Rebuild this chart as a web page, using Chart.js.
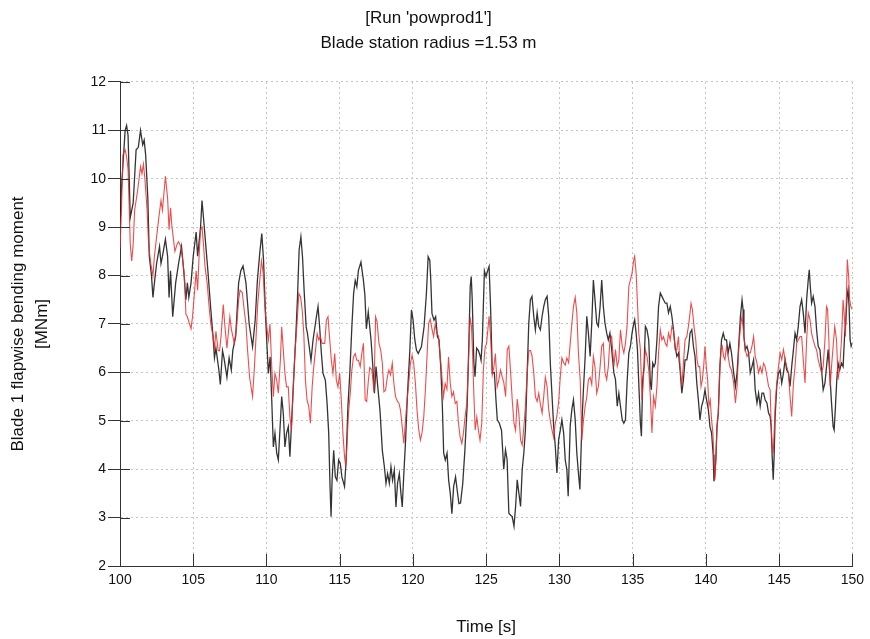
<!DOCTYPE html>
<html>
<head>
<meta charset="utf-8">
<script src="https://cdn.jsdelivr.net/npm/chart.js@4.4.1/dist/chart.umd.min.js"></script>
<style>
  html, body { margin: 0; padding: 0; background: #ffffff; }
  #wrap { width: 870px; height: 639px; position: relative; }
</style>
</head>
<body>
<div id="wrap"><canvas id="c" width="870" height="639"></canvas></div>
<script>
// ---- Data ----
const titleLines = ["[Run 'powprod1']", "Blade station radius =1.53 m"];
const xTitle = "Time [s]";
const yTitle = ["Blade 1 flapwise bending moment", "[MNm]"];

const blackTime = [
  100.0,100.1,100.35,100.45,100.55,100.7,100.9,101.1,101.25,101.4,
  101.55,101.65,101.75,101.9,102.0,102.15,102.25,102.35,102.5,102.7,
  102.8,102.9,103.1,103.25,103.35,103.45,103.6,103.8,104.0,104.2,
  104.35,104.5,104.6,104.7,104.85,105.0,105.2,105.3,105.5,105.6,
  105.7,105.85,106.0,106.2,106.35,106.45,106.55,106.75,106.85,107.0,
  107.1,107.3,107.45,107.6,107.7,107.9,108.1,108.25,108.4,108.6,
  108.82,109.05,109.23,109.38,109.54,109.68,109.8,109.95,110.13,110.25,
  110.36,110.47,110.58,110.7,110.81,110.92,111.04,111.15,111.26,111.37,
  111.49,111.6,111.71,111.83,111.99,112.12,112.23,112.35,112.46,112.57,
  112.71,112.8,112.92,113.04,113.18,113.41,113.52,113.63,113.75,113.86,
  114.02,114.14,114.25,114.34,114.41,114.48,114.59,114.7,114.81,114.93,
  115.04,115.15,115.33,115.44,115.56,115.69,115.83,115.95,116.06,116.17,
  116.28,116.45,116.62,116.72,116.82,116.95,117.14,117.25,117.37,117.48,
  117.6,117.75,117.91,118.05,118.16,118.27,118.39,118.5,118.61,118.73,
  118.84,118.95,119.07,119.18,119.27,119.38,119.5,119.63,119.79,119.9,
  120.01,120.13,120.24,120.36,120.47,120.58,120.76,120.92,121.04,121.15,
  121.22,121.3,121.44,121.55,121.67,121.78,121.9,122.01,122.1,122.21,
  122.33,122.44,122.55,122.66,122.78,122.91,123.02,123.14,123.25,123.4,
  123.55,123.7,123.82,123.91,123.98,124.05,124.16,124.24,124.35,124.47,
  124.58,124.65,124.74,124.88,124.99,125.1,125.2,125.3,125.42,125.56,
  125.67,125.76,125.9,126.05,126.2,126.32,126.43,126.55,126.67,126.78,
  126.9,127.01,127.12,127.23,127.35,127.46,127.57,127.68,127.8,127.91,
  128.02,128.13,128.25,128.36,128.48,128.59,128.7,128.82,128.93,129.04,
  129.16,129.27,129.38,129.5,129.61,129.72,129.83,129.95,130.06,130.17,
  130.29,130.4,130.51,130.6,130.74,130.85,130.96,131.08,131.19,131.3,
  131.4,131.53,131.64,131.76,131.87,131.98,132.1,132.21,132.32,132.43,
  132.55,132.66,132.78,132.89,133.0,133.11,133.23,133.34,133.45,133.57,
  133.72,133.83,133.95,134.06,134.17,134.29,134.4,134.51,134.62,134.74,
  134.85,134.96,135.08,135.14,135.24,135.33,135.42,135.53,135.6,135.69,
  135.78,135.87,135.98,136.1,136.21,136.28,136.37,136.46,136.55,136.66,
  136.77,136.89,137.0,137.11,137.23,137.34,137.45,137.57,137.68,137.79,
  137.9,138.02,138.13,138.24,138.36,138.47,138.58,138.7,138.81,138.92,
  139.04,139.15,139.26,139.38,139.49,139.6,139.71,139.83,139.94,140.05,
  140.17,140.28,140.39,140.5,140.55,140.62,140.69,140.76,140.85,140.96,
  141.07,141.19,141.3,141.41,141.52,141.64,141.75,141.9,142.02,142.13,
  142.24,142.36,142.47,142.54,142.6,142.69,142.81,142.92,143.03,143.15,
  143.26,143.37,143.49,143.6,143.71,143.83,143.94,144.05,144.17,144.28,
  144.39,144.46,144.53,144.6,144.66,144.73,144.84,144.96,145.07,145.18,
  145.3,145.41,145.52,145.64,145.75,145.86,145.98,146.09,146.2,146.31,
  146.43,146.54,146.65,146.77,146.88,146.99,147.06,147.13,147.22,147.33,
  147.45,147.56,147.67,147.79,147.9,148.01,148.13,148.24,148.35,148.46,
  148.58,148.69,148.76,148.85,148.94,149.03,149.14,149.26,149.37,149.48,
  149.55,149.64,149.71,149.78,149.85,149.92,150.0
];
const blackMoment = [
  9.0,9.8,11.0,11.1,10.9,9.2,9.5,10.6,10.65,11.0,
  10.7,10.8,10.5,9.6,8.4,8.0,7.55,7.85,8.25,8.6,
  8.25,8.4,8.75,8.4,7.55,8.1,7.15,7.85,8.25,8.6,
  8.1,7.5,7.85,7.55,7.85,8.4,8.9,8.4,9.0,9.55,
  9.2,8.65,8.1,7.3,6.75,6.3,6.5,6.05,5.75,6.45,
  6.3,5.9,6.3,6.05,6.45,6.75,7.85,8.1,8.2,7.85,
  7.0,6.53,7.08,7.9,8.46,8.87,8.32,7.08,5.98,6.32,
  5.43,4.46,4.74,4.33,4.19,4.81,5.5,5.15,4.46,4.74,
  4.88,4.26,4.95,5.7,6.67,7.56,8.53,8.8,8.39,7.7,
  6.94,6.8,6.53,6.25,6.67,7.15,7.36,6.94,6.39,5.98,
  5.84,5.36,4.74,3.64,3.02,3.77,4.39,3.84,3.77,4.19,
  4.12,3.84,3.64,4.19,5.29,5.98,6.94,7.63,7.9,7.77,
  8.11,8.28,7.9,7.6,6.9,7.25,6.67,6.18,5.57,6.12,
  5.7,5.22,4.39,4.05,3.71,3.91,3.71,4.05,3.77,3.98,
  3.22,3.71,3.91,3.5,3.22,3.91,4.6,5.57,6.46,7.29,
  7.08,6.67,6.46,6.39,6.46,6.53,6.94,7.63,8.39,8.32,
  7.9,7.22,7.08,7.15,6.74,6.67,6.12,5.29,4.33,4.19,
  4.33,3.77,3.5,3.08,3.64,3.84,3.57,3.29,3.3,3.7,
  4.4,5.3,6.6,7.77,7.98,7.5,6.2,5.91,6.5,6.45,
  6.35,6.25,6.67,8.1,7.98,8.1,8.19,7.36,5.98,6.0,
  5.43,5.02,4.95,4.8,4.0,4.4,4.2,3.09,3.05,3.02,
  2.82,3.23,3.78,3.51,3.23,3.99,4.33,4.81,5.98,7.02,
  7.5,7.57,7.16,6.88,7.23,6.95,6.88,7.16,7.36,7.5,
  7.57,7.16,6.19,5.5,4.88,4.47,3.92,4.61,4.8,5.02,
  4.75,4.19,3.99,3.44,4.9,5.23,5.43,5.02,4.33,3.92,
  3.58,4.88,5.64,6.33,7.16,6.81,6.33,7.02,7.91,7.5,
  7.02,6.95,7.36,7.91,7.36,7.02,6.81,6.67,6.81,6.47,
  5.99,5.85,5.3,5.57,5.3,5.02,4.95,5.02,5.78,6.4,
  6.54,6.81,7.02,7.09,6.81,6.47,5.78,4.95,4.68,5.85,
  6.12,6.95,6.88,6.67,5.78,5.64,6.19,6.12,6.19,6.67,
  7.36,7.64,7.57,7.5,7.43,7.43,7.23,7.36,7.16,6.88,
  6.54,6.33,6.4,6.05,5.57,5.85,6.26,6.26,6.47,6.81,
  6.88,6.54,6.33,5.78,5.43,5.02,5.3,5.43,5.64,5.43,
  5.23,4.88,4.75,4.3,3.75,3.92,4.26,4.88,5.16,6.12,
  6.67,6.81,6.67,6.67,6.4,6.6,6.4,5.99,5.71,5.99,
  6.54,7.16,7.5,7.3,6.74,6.47,6.54,6.4,5.99,6.12,
  6.26,5.64,5.37,5.57,5.3,5.57,5.57,5.43,5.37,5.16,
  5.09,4.88,4.26,3.78,4.26,5.09,5.71,5.99,6.05,5.78,
  5.99,6.26,6.05,5.99,5.71,6.12,6.47,6.81,6.67,6.95,
  7.36,7.5,7.23,6.81,7.5,7.91,8.12,7.78,7.43,7.57,
  7.36,6.88,6.54,6.47,6.05,5.64,5.78,6.12,6.47,5.99,
  5.37,4.88,4.81,5.3,5.85,6.19,6.05,6.19,6.12,6.81,
  7.02,7.57,7.71,7.36,6.67,6.54,6.6
];

const redTime = [
  100.0,100.1,100.2,100.35,100.45,100.55,100.62,100.7,100.8,100.9,
  101.0,101.2,101.3,101.4,101.5,101.6,101.7,101.85,101.95,102.1,
  102.25,102.35,102.5,102.65,102.8,102.9,103.0,103.1,103.25,103.35,
  103.45,103.55,103.75,103.9,104.0,104.15,104.25,104.4,104.5,104.6,
  104.75,104.85,104.95,105.1,105.2,105.3,105.4,105.5,105.6,105.7,
  105.8,105.95,106.1,106.2,106.35,106.45,106.55,106.7,106.8,106.9,
  107.05,107.15,107.3,107.5,107.6,107.8,107.95,108.1,108.2,108.35,
  108.48,108.6,108.7,108.85,109.05,109.18,109.3,109.4,109.54,109.66,
  109.78,109.88,110.0,110.13,110.24,110.36,110.47,110.58,110.7,110.81,
  110.95,111.04,111.15,111.26,111.37,111.49,111.6,111.71,111.83,111.94,
  112.1,112.21,112.33,112.44,112.55,112.66,112.77,112.89,113.0,113.12,
  113.23,113.35,113.46,113.57,113.68,113.8,113.98,114.09,114.2,114.32,
  114.43,114.54,114.66,114.77,114.88,115.0,115.11,115.22,115.33,115.42,
  115.51,115.6,115.72,115.83,115.94,116.06,116.17,116.28,116.4,116.51,
  116.62,116.74,116.84,116.95,117.05,117.2,117.34,117.45,117.55,117.68,
  117.8,117.91,118.02,118.13,118.25,118.36,118.47,118.59,118.7,118.81,
  118.95,119.05,119.15,119.26,119.38,119.49,119.6,119.72,119.83,119.94,
  120.05,120.17,120.28,120.4,120.51,120.62,120.74,120.85,120.96,121.07,
  121.18,121.3,121.41,121.52,121.64,121.75,121.86,121.98,122.09,122.2,
  122.32,122.43,122.55,122.66,122.77,122.89,123.0,123.11,123.22,123.34,
  123.45,123.56,123.68,123.79,123.9,124.0,124.08,124.15,124.25,124.36,
  124.47,124.58,124.7,124.81,124.92,125.03,125.2,125.3,125.42,125.53,
  125.63,125.75,125.87,125.98,126.1,126.2,126.33,126.44,126.55,126.67,
  126.78,126.9,127.01,127.12,127.23,127.35,127.46,127.57,127.68,127.8,
  127.91,128.02,128.13,128.25,128.36,128.48,128.59,128.7,128.82,128.93,
  129.04,129.16,129.27,129.38,129.5,129.61,129.72,129.83,129.95,130.06,
  130.17,130.29,130.4,130.51,130.63,130.74,130.85,130.96,131.08,131.19,
  131.3,131.42,131.53,131.64,131.76,131.87,131.98,132.1,132.21,132.32,
  132.43,132.55,132.66,132.78,132.89,133.0,133.11,133.23,133.34,133.45,
  133.57,133.72,133.83,133.95,134.06,134.17,134.29,134.4,134.51,134.62,
  134.74,134.85,134.96,135.08,135.14,135.24,135.33,135.42,135.53,135.64,
  135.76,135.87,135.98,136.1,136.21,136.32,136.43,136.55,136.66,136.77,
  136.89,137.0,137.11,137.23,137.34,137.45,137.57,137.68,137.79,137.9,
  138.02,138.13,138.24,138.36,138.47,138.58,138.7,138.81,138.92,138.99,
  139.08,139.19,139.31,139.4,139.49,139.58,139.67,139.76,139.85,139.94,
  140.03,140.12,140.21,140.3,140.39,140.48,140.57,140.62,140.69,140.76,
  140.85,140.94,141.03,141.12,141.21,141.3,141.41,141.52,141.64,141.75,
  141.9,142.02,142.13,142.24,142.36,142.47,142.58,142.69,142.81,142.92,
  143.03,143.15,143.26,143.37,143.49,143.6,143.71,143.83,143.94,144.05,
  144.17,144.28,144.39,144.46,144.53,144.6,144.66,144.73,144.84,144.96,
  145.07,145.18,145.3,145.41,145.52,145.64,145.75,145.86,145.98,146.09,
  146.2,146.31,146.43,146.54,146.65,146.77,146.88,146.99,147.11,147.22,
  147.33,147.45,147.56,147.67,147.79,147.9,148.01,148.13,148.24,148.31,
  148.4,148.49,148.58,148.69,148.8,148.92,149.03,149.14,149.26,149.37,
  149.44,149.53,149.6,149.66,149.75,149.82,149.9,150.0
];
const redMoment = [
  8.57,9.35,10.5,10.6,10.45,10.2,9.5,8.65,8.3,8.65,
  9.35,9.75,10.0,10.25,10.1,10.3,10.0,9.35,8.65,8.25,
  8.0,8.4,8.8,9.2,9.55,9.35,9.7,10.05,9.6,8.95,
  9.4,9.0,8.5,8.65,8.7,8.6,8.4,8.0,7.2,7.15,
  7.0,6.9,7.15,7.7,8.1,7.7,8.4,8.95,9.0,8.65,
  8.2,7.85,7.3,7.0,6.75,6.5,6.85,6.45,6.45,6.75,
  7.4,7.0,6.5,7.15,6.9,6.6,6.9,7.5,7.7,7.65,
  7.29,7.0,6.5,5.9,5.5,6.12,6.8,7.4,7.9,8.3,
  8.05,7.4,7.0,6.67,7.0,6.12,5.5,5.98,5.84,5.57,
  6.25,6.94,6.46,5.98,5.7,5.7,5.08,4.81,5.7,6.39,
  7.08,7.63,7.56,7.29,6.8,5.84,5.43,5.29,4.95,5.7,
  6.12,6.46,6.8,6.67,6.74,6.6,6.6,7.08,7.15,6.67,
  6.25,5.98,6.39,5.84,5.7,5.98,5.43,4.74,4.26,4.05,
  4.6,5.15,5.57,6.05,6.32,6.39,6.25,6.25,6.12,6.39,
  6.6,5.43,5.4,5.8,6.1,6.05,5.6,7.15,7.05,6.6,
  6.46,6.19,5.6,5.63,5.9,6.05,5.95,6.19,5.77,5.5,
  5.4,5.36,5.22,4.9,4.53,5.0,5.43,5.8,6.19,6.35,
  6.2,5.77,5.22,4.81,4.6,4.75,5.08,5.63,6.32,7.01,
  7.1,6.9,6.74,7.0,6.8,6.75,6.32,5.91,5.5,5.77,
  5.65,6.32,5.77,5.5,5.6,5.36,5.4,4.95,4.67,4.53,
  4.75,5.08,5.36,6.19,7.15,6.94,6.32,5.63,4.81,5.08,
  4.81,4.6,4.95,6.05,6.5,6.6,7.16,6.74,5.95,6.12,
  6.39,5.7,5.85,6.05,5.9,5.8,5.5,6.47,6.54,6.0,
  5.43,4.95,4.8,5.45,5.16,4.6,4.5,4.85,5.3,5.99,
  6.45,6.45,6.35,5.99,5.5,5.4,5.57,5.35,5.16,5.5,
  5.9,5.7,5.23,5.0,4.8,4.65,4.95,5.1,5.4,5.9,
  6.3,6.2,6.15,6.3,6.2,6.6,7.0,7.36,7.55,7.23,
  6.4,5.85,4.6,5.0,5.3,5.5,5.85,5.9,5.75,6.33,
  6.12,5.57,5.71,6.12,6.54,6.6,6.0,5.85,6.12,6.67,
  6.74,6.12,6.47,6.12,6.26,6.88,6.54,6.4,6.6,6.95,
  7.78,7.91,8.05,8.33,8.4,8.05,7.43,6.81,6.47,5.43,
  5.99,6.47,6.33,6.05,5.5,4.75,5.5,5.3,5.71,6.4,
  6.88,6.67,6.74,6.6,6.54,6.81,6.67,6.95,6.88,6.47,
  6.47,6.74,6.12,5.71,6.19,6.67,6.74,6.95,7.23,7.43,
  7.3,6.95,6.67,6.26,6.12,6.12,5.71,5.85,6.12,6.54,
  6.12,5.85,5.3,5.43,5.02,4.75,4.06,3.78,4.26,4.88,
  5.16,5.99,6.47,6.54,6.33,6.26,6.54,6.33,6.12,6.05,
  5.78,5.37,5.71,6.47,6.95,7.16,6.81,6.47,6.33,6.4,
  6.4,6.54,6.74,6.33,6.19,5.99,6.12,5.99,6.19,6.12,
  5.92,5.71,5.64,4.88,4.47,4.33,4.75,5.3,5.78,6.12,
  6.4,6.26,6.47,6.26,6.12,5.99,5.5,5.09,5.78,6.12,
  6.6,6.67,6.74,6.74,6.26,5.78,6.67,7.23,7.09,6.81,
  6.67,6.54,6.47,6.26,6.12,5.99,6.12,6.67,7.36,7.3,
  6.67,5.71,6.12,6.54,6.95,6.67,5.85,6.12,6.67,7.5,
  7.23,6.74,7.64,8.33,7.98,7.5,7.36,7.3
];

const xMin = 100, xMax = 150, xStep = 5;
const yMin = 2, yMax = 12, yStep = 1;

// ---- Build chart ----
function pairs(ts, vs) {
  const n = Math.min(ts.length, vs.length);
  if (ts.length !== vs.length) console.warn('length mismatch', ts.length, vs.length);
  const out = [];
  for (let i = 0; i < n; i++) out.push({ x: ts[i], y: vs[i] });
  return out;
}

const FONT = "'Liberation Sans', Arial, sans-serif";

const innerTicks = {
  id: 'innerTicks',
  afterDraw(chart) {
    const { ctx, chartArea: a, scales: { x, y } } = chart;
    ctx.save();
    ctx.strokeStyle = '#333';
    ctx.lineWidth = 1;
    ctx.beginPath();
    x.ticks.forEach(t => {
      if (t.value === xMin) return;
      const px = Math.round(x.getPixelForValue(t.value)) + 0.5;
      ctx.moveTo(px, a.bottom);
      ctx.lineTo(px, a.bottom - 12);
    });
    y.ticks.forEach(t => {
      const py = Math.round(y.getPixelForValue(t.value)) + 0.5;
      ctx.moveTo(a.left, py);
      ctx.lineTo(a.left + 10, py);
    });
    ctx.stroke();
    ctx.restore();
  }
};

new Chart(document.getElementById('c'), {
  type: 'line',
  data: {
    datasets: [
      {
        label: 'Series 1',
        data: pairs(blackTime, blackMoment),
        borderColor: 'rgba(30,30,30,0.9)',
        borderWidth: 1.3,
        pointRadius: 0,
        tension: 0,
        fill: false,
        order: 2
      },
      {
        label: 'Series 2',
        data: pairs(redTime, redMoment),
        borderColor: 'rgba(235,45,45,0.85)',
        borderWidth: 1.1,
        pointRadius: 0,
        tension: 0,
        fill: false,
        order: 1
      }
    ]
  },
  options: {
    responsive: false,
    animation: false,
    devicePixelRatio: 1,
    layout: { padding: { left: 0, right: 13, top: 0, bottom: 0 } },
    plugins: {
      legend: { display: false },
      tooltip: { enabled: false },
      title: {
        display: true,
        text: titleLines,
        color: '#111',
        font: { family: FONT, size: 17, weight: 'normal', lineHeight: 1.47 },
        padding: { top: 6, bottom: 26 }
      }
    },
    scales: {
      x: {
        type: 'linear',
        min: xMin, max: xMax,
        ticks: {
          stepSize: xStep,
          color: '#111',
          font: { family: FONT, size: 14 },
          padding: 6,
          maxRotation: 0
        },
        grid: {
          color: '#c4c4c4',
          drawTicks: false,
          lineWidth: 1
        },
        border: { display: true, color: '#333', width: 1, dash: [2, 3] },
        title: {
          display: true,
          text: xTitle,
          color: '#111',
          font: { family: FONT, size: 17 },
          padding: { top: 0, bottom: 1 }
        },
        afterFit(scale) { scale.height = 73; }
      },
      y: {
        type: 'linear',
        min: yMin, max: yMax,
        ticks: {
          stepSize: yStep,
          color: '#111',
          font: { family: FONT, size: 14 },
          padding: 2
        },
        grid: {
          color: '#c4c4c4',
          tickColor: '#333',
          tickLength: 12,
          lineWidth: 1
        },
        border: { display: true, color: '#333', width: 1, dash: [2, 3] },
        title: {
          display: true,
          text: yTitle,
          color: '#111',
          font: { family: FONT, size: 17, lineHeight: 1.42 },
          padding: { top: 6, bottom: 0 }
        },
        afterFit(scale) { scale.width = 120; }
      }
    }
  },
  plugins: [innerTicks]
});
</script>
</body>
</html>
